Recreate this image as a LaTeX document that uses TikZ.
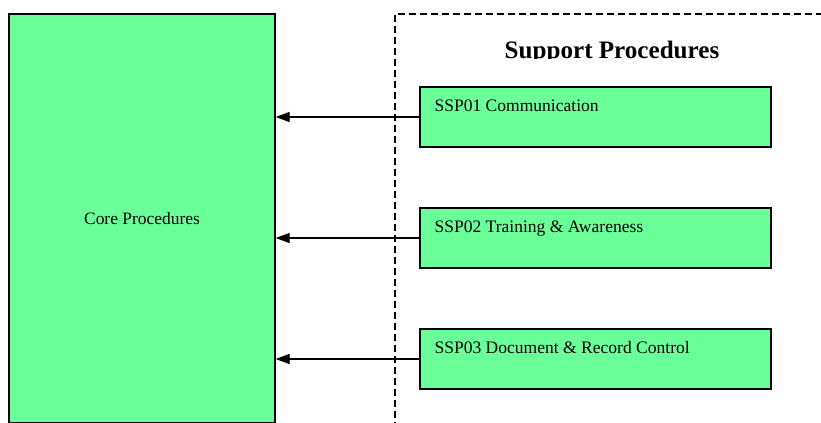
\documentclass[tikz,border=0pt]{standalone}
\usepackage{fontspec}
\setmainfont{Liberation Serif}
\usepackage{tikz}
\usetikzlibrary{arrows.meta,positioning}

\definecolor{procgreen}{RGB}{107,255,153}

\begin{document}
\begin{tikzpicture}[x=1bp,y=-1bp,>/.tip={Triangle[length=14bp,width=10bp]},
  procbox/.style={draw,fill=procgreen,line width=1.3bp,inner sep=0pt},
  boxtext/.style={anchor=base west,xshift=15bp,yshift=-25bp,inner sep=0pt,font=\fontsize{17.6}{20}\selectfont}]
\useasboundingbox (0,0) rectangle (821,422);
\clip (0,0) rectangle (821,422);

\draw[dash pattern=on 7bp off 4bp,line width=1.3bp] (395,440) |- (840,14);
\begin{scope}
\clip (395,14) rectangle (840,58.7);
\draw (612,58.5) node (title) [anchor=base,font=\bfseries\fontsize{25.2}{30}\selectfont] {Support Procedures};
\end{scope}

\draw (142,218.5) node (core) [procbox,minimum width=266bp,minimum height=409bp,font=\fontsize{17.5}{20}\selectfont] {Core Procedures};
\draw (595.5,117) node (s1) [procbox,minimum width=351bp,minimum height=60bp,label={[boxtext]north west:SSP01 Communication}] {};
\draw (595.5,238) node (s2) [procbox,minimum width=351bp,minimum height=60bp,label={[boxtext]north west:SSP02 Training \& Awareness}] {};
\draw (595.5,359) node (s3) [procbox,minimum width=351bp,minimum height=60bp,label={[boxtext]north west:SSP03 Document \& Record Control}] {};

\draw[->,line width=1.3bp] (s1.west) -- (s1.west -| core.east);
\draw[->,line width=1.3bp] (s2.west) -- (s2.west -| core.east);
\draw[->,line width=1.3bp] (s3.west) -- (s3.west -| core.east);

\end{tikzpicture}
\end{document}
